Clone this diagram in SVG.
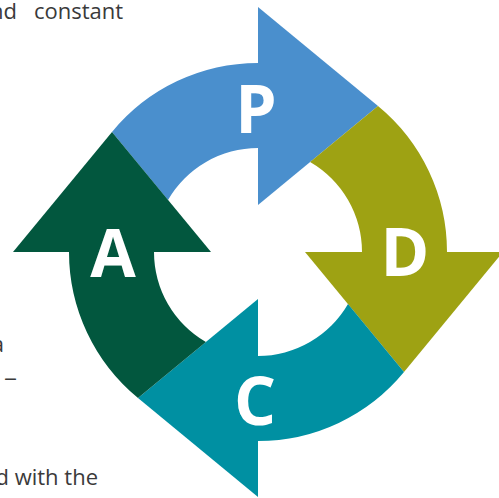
<svg xmlns="http://www.w3.org/2000/svg" width="499" height="498" viewBox="0 0 499 498">
<style>
.lbl{font-family:"Open Sans","Noto Sans","DejaVu Sans",sans-serif;font-weight:700;font-size:66px;fill:#ffffff;text-anchor:middle}
.body{font-family:"Open Sans","Noto Sans","DejaVu Sans",sans-serif;font-size:22px;fill:#3a3a3a}
.plan{fill:#4a8fcd}
.do{fill:#9ea213}
.check{fill:#0090a2}
.act{fill:#02573e}
</style>
<rect width="499" height="498" fill="#ffffff"/>
<g id="body-text">
<text class="body" x="17" y="19" text-anchor="end">nd</text>
<text class="body" x="34" y="19">constant</text>
<text class="body" x="4" y="352" text-anchor="end">a</text>
<text class="body" x="4" y="384.5" textLength="13" lengthAdjust="spacingAndGlyphs">–</text>
<text class="body" x="98" y="485" text-anchor="end">d with the</text>
</g>
<g id="connectors"></g>
<g id="node-plan">
<path class="plan" d="M112,132 A189,189 0 0 1 258,63 L258,148 A104,104 0 0 0 168,199.9 Z"/>
<polygon class="plan" points="258,7 378,106 258,205"/>
</g>
<g id="node-do">
<path class="do" d="M378,106 A189,189 0 0 1 447,252 L362,252 A104,104 0 0 0 310.1,162 Z"/>
<polygon class="do" points="503,252 404,372 305,252"/>
</g>
<g id="node-check">
<path class="check" d="M404,372 A189,189 0 0 1 258,441 L258,356 A104,104 0 0 0 348,304.1 Z"/>
<polygon class="check" points="258,497 138,398 258,299"/>
</g>
<g id="node-act">
<path class="act" d="M138,398 A189,189 0 0 1 69,252 L154,252 A104,104 0 0 0 205.9,342 Z"/>
<polygon class="act" points="13,252 112,132 211,252"/>
</g>
<g id="labels">
<text class="lbl" x="256" y="133">P</text>
<text class="lbl" x="405" y="276">D</text>
<text class="lbl" x="113" y="277">A</text>
<text class="lbl" x="255" y="425">C</text>
</g>
</svg>
